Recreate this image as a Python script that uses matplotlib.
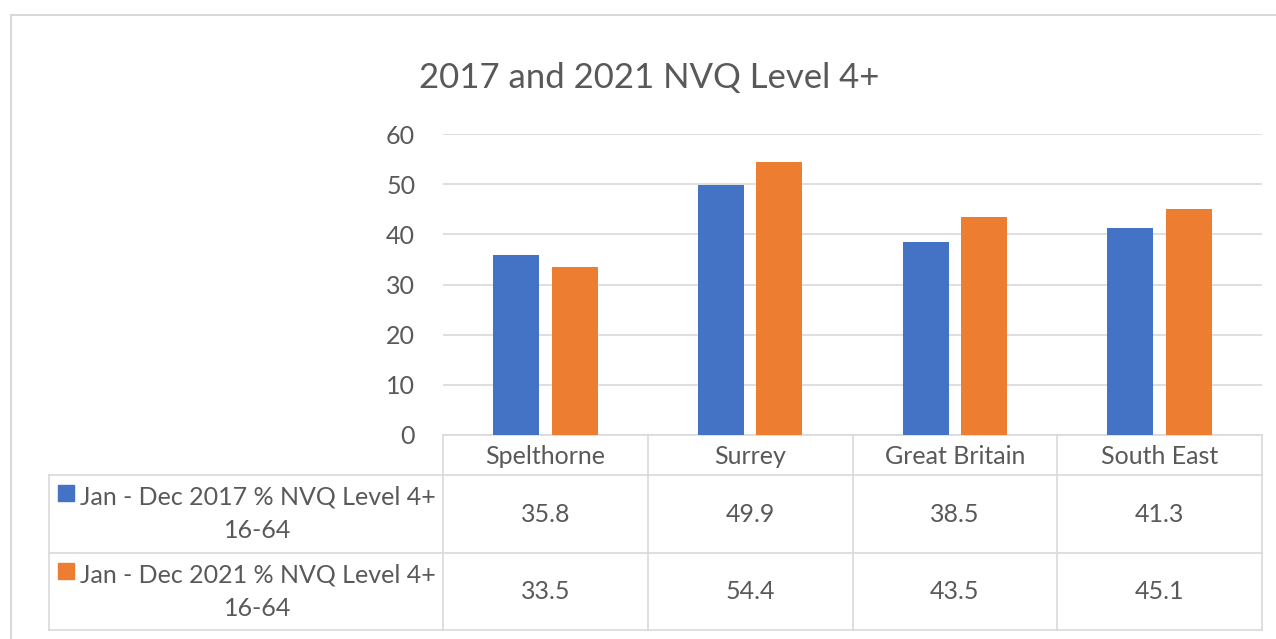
import matplotlib
matplotlib.use("Agg")
import matplotlib.pyplot as plt
import matplotlib.transforms as mtransforms
from matplotlib.lines import Line2D
from matplotlib.patches import Rectangle
import numpy as np

categories = ["Spelthorne", "Surrey", "Great Britain", "South East"]
series_names = ["Jan - Dec 2017 % NVQ Level 4+\n16-64", "Jan - Dec 2021 % NVQ Level 4+\n16-64"]
values_2017 = [35.8, 49.9, 38.5, 41.3]
values_2021 = [33.5, 54.4, 43.5, 45.1]
yticks = [0, 10, 20, 30, 40, 50, 60]
title = "2017 and 2021 NVQ Level 4+"

colors = ["#4472C4", "#ED7D31"]
grid_c = "#D9D9D9"
text_c = "#595959"
FONT = ["Lato", "DejaVu Sans"]
plt.rcParams["font.family"] = FONT
FS = 18

W, H = 1276, 639
fig = plt.figure(figsize=(W / 100, H / 100), dpi=100)

def fx(px):
    return px / W

def fy(py):
    return 1 - py / H

ax_left, ax_right, ax_top, ax_bot = 443, 1262, 134, 435
ax = fig.add_axes([fx(ax_left), fy(ax_bot), fx(ax_right - ax_left), fy(ax_top) - fy(ax_bot)])

x = np.arange(len(categories))
bw = 0.225
off = 0.143
ax.bar(x - off, values_2017, bw, color=colors[0], zorder=3)
ax.bar(x + off, values_2021, bw, color=colors[1], zorder=3)
ax.set_xlim(-0.5, len(categories) - 0.5)
ax.set_ylim(0, 60)
ax.set_yticks(yticks)
ax.set_xticks([])
ax.grid(axis="y", color=grid_c, linewidth=1.2, zorder=0)
for s in ["top", "right", "left"]:
    ax.spines[s].set_visible(False)
ax.spines["bottom"].set_color(grid_c)
ax.spines["bottom"].set_linewidth(1.2)
ax.tick_params(axis="y", length=0, pad=20, labelsize=FS, labelcolor=text_c)

# outer chart border
fig.add_artist(Line2D([fx(11), fx(11)], [fy(15), fy(639)], color=grid_c, lw=1.5))
fig.add_artist(Line2D([fx(11), fx(1276)], [fy(15), fy(15)], color=grid_c, lw=1.5))

fig.text(fx(649), fy(78), title, ha="center", va="center", fontsize=25, color=text_c)

# data table
bt = mtransforms.blended_transform_factory(ax.transData, fig.transFigure)
n = len(categories)
row_y = [435, 475, 553, 630]
tab_left = 49
lw = 1.2
for i in range(n + 1):
    xb = i - 0.5
    fig.add_artist(Line2D([xb, xb], [fy(row_y[0]), fy(row_y[3])], color=grid_c, lw=lw, transform=bt))
for ry in row_y[1:]:
    fig.add_artist(Line2D([fx(tab_left), fx(ax_right)], [fy(ry), fy(ry)], color=grid_c, lw=lw))
fig.add_artist(Line2D([fx(tab_left), fx(tab_left)], [fy(row_y[1]), fy(row_y[3])], color=grid_c, lw=lw))

for i, c in enumerate(categories):
    fig.text(i, fy((row_y[0] + row_y[1]) / 2 + 1), c, ha="center", va="center",
             fontsize=FS, color=text_c, transform=bt)
for r, vals in enumerate([values_2017, values_2021]):
    yc = (row_y[r + 1] + row_y[r + 2]) / 2
    for i, v in enumerate(vals):
        fig.text(i, fy(yc), f"{v:.1f}", ha="center", va="center",
                 fontsize=FS, color=text_c, transform=bt)
    fig.add_artist(Rectangle((fx(58), fy(yc - 13)), fx(16), fy(0) - fy(16),
                             color=colors[r], transform=fig.transFigure))
    line1, line2 = series_names[r].split("\n")
    fig.text(fx(80), fy(yc - 17), line1, ha="left", va="center", fontsize=FS, color=text_c)
    fig.text(fx(258), fy(yc + 17), line2, ha="center", va="center", fontsize=FS, color=text_c)

fig.savefig("out.png", dpi=100, facecolor="white")
